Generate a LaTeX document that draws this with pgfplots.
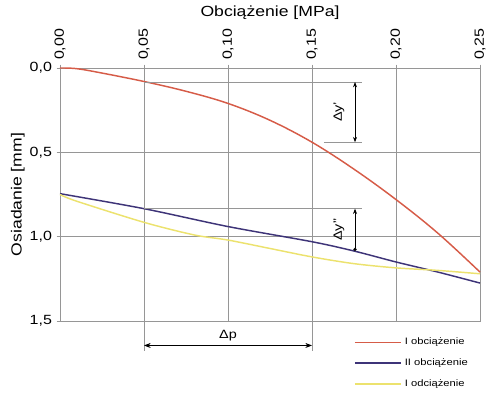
\documentclass[border=0pt]{standalone}
\usepackage{fontspec}
\setmainfont{Liberation Sans}[FakeStretch=1.2]
\usepackage{pgfplots}
\pgfplotsset{compat=1.18}
\usetikzlibrary{arrows.meta}
\definecolor{cred}{RGB}{214,92,72}
\definecolor{cblue}{RGB}{62,52,120}
\definecolor{cyel}{RGB}{236,226,110}
\definecolor{cgrid}{RGB}{150,150,150}
\begin{document}
\begin{tikzpicture}
\useasboundingbox (-45pt,-57pt) rectangle (321pt,240.75pt);
\begin{axis}[
  scale only axis, width=315pt, height=189.75pt,
  anchor=south west, at={(0,0)},
  xmin=0, xmax=0.25, ymin=0, ymax=1.5, y dir=reverse,
  xtick={0,0.05,0.1,0.15,0.2,0.25}, ytick={0,0.5,1,1.5},
  xticklabel pos=upper, xtick pos=upper, ytick pos=left,
  tick align=outside, major tick length=2.5pt,
  tick style={cgrid, line width=0.5pt},
  axis line style={cgrid, line width=0.6pt},
  grid=major, major grid style={cgrid, line width=0.6pt},
  /pgf/number format/assume math mode=true,
  xticklabel style={/pgf/number format/.cd, fixed, fixed zerofill, precision=2, use comma, /tikz/.cd, rotate=90, anchor=west, font=\fontsize{10}{12}\selectfont},
  yticklabel style={/pgf/number format/.cd, fixed, fixed zerofill, precision=1, use comma, /tikz/.cd, font=\fontsize{10}{12}\selectfont},
  xlabel={Obciążenie [MPa]}, ylabel={Osiadanie [mm]},
  label style={font=\fontsize{11}{13}\selectfont},
  ylabel style={yshift=-3pt},
  clip=false,
  legend style={at={(0.69,-0.045)}, anchor=north west, draw=none, fill=none, font=\fontsize{7}{8}\selectfont, row sep=5pt},
  legend cell align=left,
  legend image code/.code={\draw[#1] (0pt,0pt) -- (35pt,0pt);},
]
\addplot[cred, line width=1.1pt, smooth, tension=0.6] coordinates {
(0,0) (0.01,0.004) (0.025,0.03) (0.05,0.08) (0.075,0.138) (0.10,0.21) (0.125,0.31) (0.15,0.44) (0.175,0.6) (0.20,0.78) (0.225,0.98) (0.25,1.21)};
\addlegendentry{I obciążenie}
\addplot[cblue, line width=1.1pt, smooth, tension=0.5] coordinates {
(0,0.745) (0.05,0.834) (0.10,0.94) (0.15,1.03) (0.175,1.085) (0.20,1.15) (0.225,1.21) (0.25,1.275)};
\addlegendentry{II obciążenie}
\addplot[cyel, line width=1.1pt, smooth, tension=0.5] coordinates {
(0,0.75) (0.01,0.79) (0.05,0.915) (0.08,0.99) (0.10,1.02) (0.125,1.07) (0.15,1.12) (0.175,1.16) (0.20,1.185) (0.225,1.2) (0.25,1.22)};
\addlegendentry{I odciążenie}
% dimension lines
\draw[cgrid, line width=0.5pt] (axis cs:0.05,0.083) -- (axis cs:0.18,0.083);
\draw[cgrid, line width=0.5pt] (axis cs:0.157,0.44) -- (axis cs:0.18,0.44);
\draw[black, line width=0.5pt, {Stealth[length=4pt]}-{Stealth[length=4pt]}] (axis cs:0.1756,0.083) -- (axis cs:0.1756,0.44);
\node[rotate=90, font=\fontsize{9}{10}\selectfont] at (axis cs:0.166,0.26) {Δy'};
\draw[cgrid, line width=0.5pt] (axis cs:0.05,0.834) -- (axis cs:0.18,0.834);
\draw[black, line width=0.5pt, {Stealth[length=4pt]}-{Circle[length=2.5pt]}] (axis cs:0.1756,0.834) -- (axis cs:0.1756,1.085);
\node[rotate=90, font=\fontsize{9}{10}\selectfont] at (axis cs:0.166,0.96) {Δy''};
\draw[cgrid, line width=0.5pt] (axis cs:0.05,1.5) -- (axis cs:0.05,1.68);
\draw[cgrid, line width=0.5pt] (axis cs:0.15,1.5) -- (axis cs:0.15,1.68);
\draw[black, line width=0.5pt, {Stealth[length=5pt]}-{Stealth[length=5pt]}] (axis cs:0.05,1.645) -- (axis cs:0.15,1.645);
\node[font=\fontsize{9}{10}\selectfont] at (axis cs:0.1,1.585) {Δp};
\end{axis}
\end{tikzpicture}
\end{document}
